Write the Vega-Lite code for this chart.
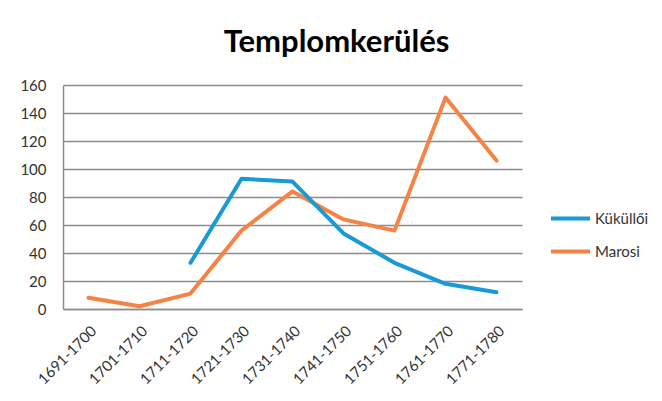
{
  "$schema": "https://vega.github.io/schema/vega-lite/v6.json",
  "autosize": "none",
  "width": 459,
  "height": 224,
  "padding": {"left": 63, "top": 85, "right": 140, "bottom": 92},
  "background": "white",
  "title": {
    "text": "Templomkerülés",
    "font": "Lato",
    "fontSize": 31,
    "fontWeight": "bold",
    "color": "#000000",
    "anchor": "middle",
    "dx": 44,
    "dy": 40,
    "baseline": "alphabetic",
    "offset": 35
  },
  "config": {
    "view": {"stroke": null},
    "font": "Lato"
  },
  "data": {
    "values": [
      {"period": "1691-1700", "series": "Marosi", "value": 8},
      {"period": "1701-1710", "series": "Marosi", "value": 2},
      {"period": "1711-1720", "series": "Marosi", "value": 11},
      {"period": "1721-1730", "series": "Marosi", "value": 56},
      {"period": "1731-1740", "series": "Marosi", "value": 84},
      {"period": "1741-1750", "series": "Marosi", "value": 64},
      {"period": "1751-1760", "series": "Marosi", "value": 56},
      {"period": "1761-1770", "series": "Marosi", "value": 151},
      {"period": "1771-1780", "series": "Marosi", "value": 106},
      {"period": "1711-1720", "series": "Küküllői", "value": 33},
      {"period": "1721-1730", "series": "Küküllői", "value": 93},
      {"period": "1731-1740", "series": "Küküllői", "value": 91},
      {"period": "1741-1750", "series": "Küküllői", "value": 54},
      {"period": "1751-1760", "series": "Küküllői", "value": 33},
      {"period": "1761-1770", "series": "Küküllői", "value": 18},
      {"period": "1771-1780", "series": "Küküllői", "value": 12}
    ]
  },
  "mark": {"type": "line", "strokeWidth": 4, "strokeCap": "round", "strokeJoin": "round"},
  "encoding": {
    "x": {
      "field": "period",
      "type": "ordinal",
      "sort": ["1691-1700","1701-1710","1711-1720","1721-1730","1731-1740","1741-1750","1751-1760","1761-1770","1771-1780"],
      "scale": {"paddingInner": 0, "paddingOuter": 0.5},
      "axis": {
        "title": null,
        "labelAngle": -45,
        "labelFontSize": 15,
        "labelColor": "#333333",
        "labelPadding": 14,
        "ticks": false,
        "domainColor": "#8c8c8c",
        "domainWidth": 1.5,
        "grid": false
      }
    },
    "y": {
      "field": "value",
      "type": "quantitative",
      "scale": {"domain": [0, 160], "nice": false},
      "axis": {
        "title": null,
        "values": [0, 20, 40, 60, 80, 100, 120, 140, 160],
        "labelFontSize": 15,
        "labelColor": "#333333",
        "labelPadding": 17,
        "ticks": false,
        "domainColor": "#8c8c8c",
        "domainWidth": 1.5,
        "gridColor": "#8c8c8c",
        "gridWidth": 1.5
      }
    },
    "color": {
      "field": "series",
      "type": "nominal",
      "sort": ["Küküllői", "Marosi"],
      "scale": {"domain": ["Küküllői", "Marosi"], "range": ["#199AD6", "#F58345"]},
      "legend": {
        "title": null,
        "orient": "none",
        "legendX": 486,
        "legendY": 112,
        "symbolType": "stroke",
        "symbolSize": 1521,
        "symbolStrokeWidth": 4,
        "labelFontSize": 15,
        "labelColor": "#333333",
        "labelOffset": 3,
        "rowPadding": 3
      }
    }
  }
}
